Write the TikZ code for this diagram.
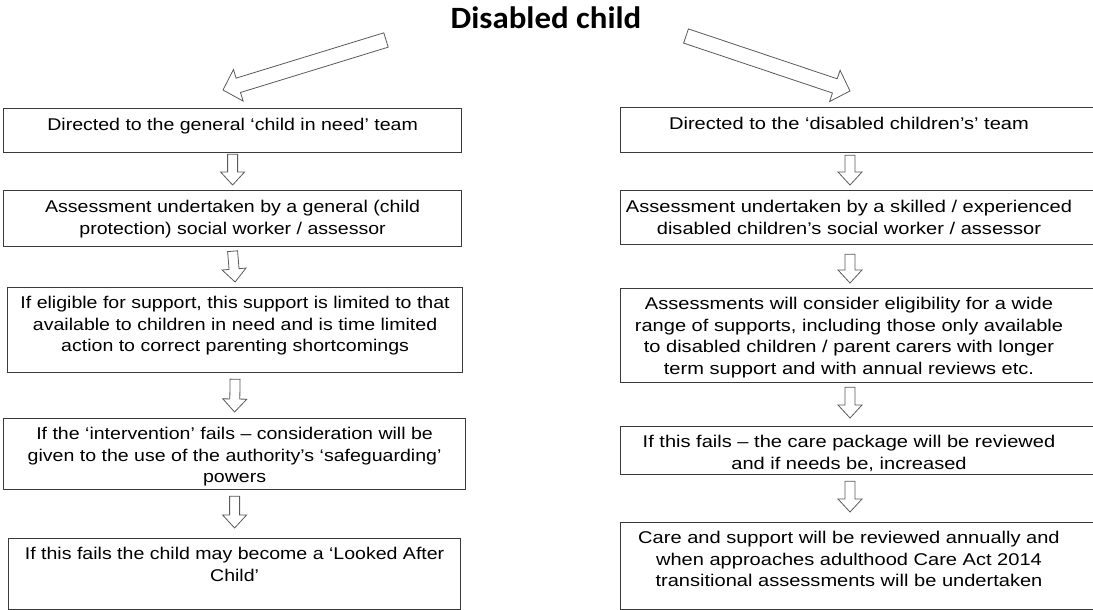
\documentclass[tikz,border=0pt]{standalone}
\usepackage{fontspec}
\setmainfont[FakeStretch=1.15]{Liberation Sans}
\newfontfamily\rfont[FakeStretch=1.18]{Liberation Sans}
\newfontfamily\titlefont[FakeStretch=1.06]{Carlito}
\usetikzlibrary{calc}
\definecolor{boxline}{HTML}{3A3A3A}
\definecolor{arrline}{HTML}{5A5A5A}
\tikzset{
  box/.style={draw=boxline, line width=1.2pt, inner sep=0pt, anchor=north west},
  txt/.style={font=\fontsize{17}{21.7}\selectfont, align=center, inner sep=0pt, anchor=north, text=black},
  rtxt/.style={txt, font=\rfont\fontsize{17}{21.7}\selectfont},
  blk/.style n args={3}{draw=arrline, line width=0.8pt, fill=white, line join=miter,
    to path={
      ($(\tikztostart)!#1!90:(\tikztotarget)$) --
      ($(\tikztotarget)!#3!(\tikztostart)!#1!90:(\tikztotarget)$) --
      ($(\tikztotarget)!#3!(\tikztostart)!#2!90:(\tikztotarget)$) --
      (\tikztotarget) --
      ($(\tikztotarget)!#3!(\tikztostart)!#2!-90:(\tikztotarget)$) --
      ($(\tikztotarget)!#3!(\tikztostart)!#1!-90:(\tikztotarget)$) --
      ($(\tikztostart)!#1!-90:(\tikztotarget)$) -- cycle}},
  small/.style={blk={5pt}{12pt}{13pt}},
  big/.style={blk={7.5pt}{16.5pt}{16pt}}
}
\begin{document}
\begin{tikzpicture}[x=1pt,y=-1pt]
\useasboundingbox (0,0) rectangle (1093,610);
% title
\node[font=\titlefont\bfseries\fontsize{31}{37}\selectfont, anchor=base, inner sep=0pt] (title) at (546,29) {Disabled child};
% big arrows
\coordinate (lt) at (386,40);
\coordinate (lh) at (223,90);
\coordinate (rt) at (686,36);
\coordinate (rh) at (850,91);
\draw[big] (lt) to (lh);
\draw[big] (rt) to (rh);
% left column boxes
\node[box, minimum width=458pt, minimum height=44pt] (L1) at (3,108) {};
\node[box, minimum width=458pt, minimum height=56pt] (L2) at (3,190) {};
\node[box, minimum width=455pt, minimum height=85pt] (L3) at (7,287) {};
\node[box, minimum width=462pt, minimum height=71pt] (L4) at (3,418) {};
\node[box, minimum width=452pt, minimum height=71pt] (L5) at (8,538) {};
% right column boxes
\node[box, minimum width=490pt, minimum height=45pt] (R1) at (620,107) {};
\node[box, minimum width=490pt, minimum height=54pt] (R2) at (620,190) {};
\node[box, minimum width=490pt, minimum height=94pt] (R3) at (620,288) {};
\node[box, minimum width=490pt, minimum height=48pt] (R4) at (620,426) {};
\node[box, minimum width=490pt, minimum height=87pt] (R5) at (620,522) {};
% left texts
\node[txt] (L1t) at ([yshift=-10pt]L1.north) {Directed to the general ‘child in need’ team};
\node[txt] (L2t) at ([yshift=-10pt]L2.north) {Assessment undertaken by a general (child\\protection) social worker / assessor};
\node[txt] (L3t) at ([yshift=-9pt]L3.north) {If eligible for support, this support is limited to that\\available to children in need and is time limited\\action to correct parenting shortcomings};
\node[txt] (L4t) at ([yshift=-9pt]L4.north) {If the ‘intervention’ fails – consideration will be\\given to the use of the authority’s ‘safeguarding’\\powers};
\node[txt] (L5t) at ([yshift=-9pt]L5.north) {If this fails the child may become a ‘Looked After\\Child’};
% right texts
\coordinate (Rtx) at (849,0);
\node[rtxt] (R1t) at ([yshift=-10pt]R1.north west -| Rtx) {Directed to the ‘disabled children’s’ team};
\node[rtxt] (R2t) at ([yshift=-10pt]R2.north west -| Rtx) {Assessment undertaken by a skilled / experienced\\disabled children’s social worker / assessor};
\node[rtxt] (R3t) at ([yshift=-9pt]R3.north west -| Rtx) {Assessments will consider eligibility for a wide\\range of supports, including those only available\\to disabled children / parent carers with longer\\term support and with annual reviews etc.};
\node[rtxt] (R4t) at ([yshift=-9pt]R4.north west -| Rtx) {If this fails – the care package will be reviewed\\and if needs be, increased};
\node[rtxt] (R5t) at ([yshift=-9pt]R5.north west -| Rtx) {Care and support will be reviewed annually and\\when approaches adulthood Care Act 2014\\transitional assessments will be undertaken};
\coordinate (Rax) at (850,0);
% small arrows left
\draw[small] ([yshift=-1pt]L1.south) to ([yshift=5pt]L2.north);
\draw[small] ([yshift=-4pt]L2.south) to ([yshift=5pt]L3.north);
\draw[small] ([yshift=-6pt]L3.south) to ([yshift=6pt]L4.north);
\draw[small] ([yshift=-6pt]L4.south) to ([yshift=10pt]L5.north);
% small arrows right
\draw[small] ([yshift=-2pt]R1.south -| Rax) to ([yshift=5pt]R2.north -| Rax);
\draw[small] ([yshift=-9pt]R2.south -| Rax) to ([yshift=5pt]R3.north -| Rax);
\draw[small] ([yshift=-4pt]R3.south -| Rax) to ([yshift=8pt]R4.north -| Rax);
\draw[small] ([yshift=-6pt]R4.south -| Rax) to ([yshift=10pt]R5.north -| Rax);
\end{tikzpicture}
\end{document}
